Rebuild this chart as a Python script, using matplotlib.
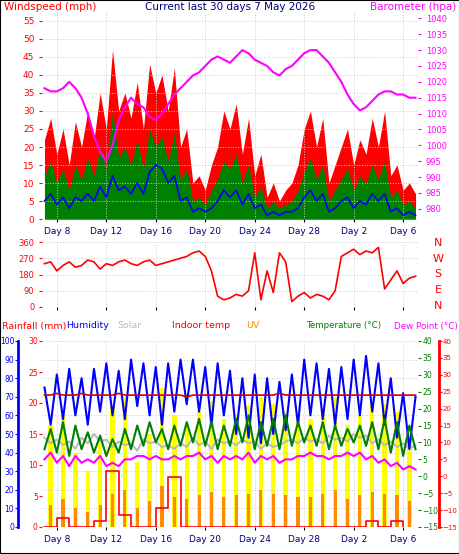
import numpy as np
import matplotlib
matplotlib.use("Agg")
import matplotlib.pyplot as plt
from matplotlib.patches import Rectangle

W, H = 460, 554
t = np.arange(7, 37.01, 0.5)  # day-of-period positions, 2 samples/day
gust = [22,28,18,25,15,27,20,30,22,35,25,47,30,35,28,38,25,43,35,40,30,42,20,25,10,12,8,15,20,30,
        25,32,18,28,12,18,6,10,5,8,10,15,25,30,20,28,10,15,20,25,15,22,18,28,20,30,12,15,8,10,7]
speed = [12,16,10,14,8,15,11,17,12,20,14,30,17,20,15,22,14,25,20,23,16,24,11,14,5,6,4,8,11,16,
         14,18,10,15,6,9,3,5,3,4,5,8,13,17,11,15,5,8,11,14,8,12,10,15,11,16,6,8,4,5,3]
avgw = [5,7,4,6,3,6,5,7,5,9,6,12,8,9,7,10,7,13,15,14,10,12,5,6,2,3,2,3,5,8,
        6,8,4,7,3,4,1,2,1,2,2,3,6,8,5,7,2,3,5,6,3,5,4,7,5,7,2,3,1,2,1]
baro = [1018,1017,1017,1018,1020,1018,1015,1010,1003,998,995,1000,1008,1012,1015,1013,1012,1009,1008,1010,
        1013,1016,1018,1020,1022,1023,1025,1027,1028,1027,1026,1028,1030,1029,1027,1026,1025,1023,1022,1024,
        1025,1027,1029,1030,1030,1028,1026,1023,1020,1016,1013,1011,1012,1014,1016,1017,1017,1016,1016,1015,1015]
wdir_t = np.arange(7, 37.01, 0.5)
wdir = [240,250,200,230,250,220,230,260,250,210,240,230,250,260,240,230,250,260,230,240,
        250,260,270,280,300,310,280,200,60,40,50,70,60,90,300,40,200,80,300,250,
        30,60,80,50,70,60,40,90,280,300,320,290,310,300,330,100,150,200,130,160,170]
hum = [75,55,82,58,85,60,80,55,85,62,88,60,84,58,90,65,88,60,86,55,
       88,62,90,66,90,62,86,55,88,60,84,50,80,48,82,45,80,50,78,52,
       82,55,90,60,88,58,85,55,86,58,90,60,92,62,88,55,80,48,72,42,70]
temp = [8,14,7,16,6,15,8,13,7,12,6,11,7,14,8,15,9,16,10,14,
        8,15,9,16,10,17,9,16,8,15,9,17,10,18,8,16,9,17,8,18,
        9,16,10,15,9,16,8,15,9,14,10,15,9,16,8,17,7,16,6,15,8]
dew = [5,7,4,6,3,6,4,5,4,6,3,4,3,5,5,6,6,5,6,5,
       5,6,5,6,6,7,5,6,4,6,5,6,5,7,4,6,5,6,4,5,
       5,6,6,7,6,6,5,6,6,7,6,7,5,6,4,5,3,4,2,3,2]
indoor = [24,24,24.5,24,24,24,24.5,24,24,24,24,24,24.5,24,24,24,24,24,24,24,
          24,24,24,23.5,24,24,24,24,24,24,24,24,24,24,24,24,24,24,24.5,24,
          24,24,24,24,24,24,24,24,24,24,24,24,24,24,24,24,24,24,24,24,24]
solar_gray = [48,45,47,44,46,42,48,45,50,46,47,43,46,44,45,41,47,45,46,43,
              44,42,45,43,48,44,46,42,47,45,46,44,47,45,46,42,45,43,44,46,
              47,45,48,46,47,45,49,47,48,46,50,48,49,45,47,44,46,43,45,42,44]
days = np.arange(7, 37)
solar = [55,60,40,30,45,65,70,35,50,75,60,55,62,68,58,60,65,70,66,62,60,58,64,70,55,60,68,66,62,50]
uv = [12,15,10,8,12,18,20,10,14,22,16,15,17,19,16,17,18,20,18,17,16,16,18,20,15,17,19,18,17,14]
rain = [0,1.5,0,0,1,9,2,0,0,3,8,0,0,0,0,0,0,0,0,0,0,0,0,0,0,0,1,0,1,0]

fig = plt.figure(figsize=(W/100, H/100), dpi=100)
fig.patch.set_facecolor("white")
fig.add_artist(Rectangle((0, 0), 1, 1, transform=fig.transFigure, fill=False, ec="black", lw=1.5))

def ax_at(x0, y0, x1, y1):
    return fig.add_axes([x0/W, 1-y1/H, (x1-x0)/W, (y1-y0)/H])

XL = (6.8, 37.2)
dticks = [8, 12, 16, 20, 24, 28, 32, 36]
dlabels = ["Day 8", "Day 12", "Day 16", "Day 20", "Day 24", "Day 28", "Day 2", "Day 6"]

def style(ax):
    ax.set_xlim(*XL)
    ax.grid(True, color="#cccccc", ls=":", lw=0.7)
    for s in ax.spines.values():
        s.set_visible(False)
    ax.tick_params(labelsize=6.5, length=2)

def bare_twin(ax):
    a = ax.twinx()
    a.set_xlim(*XL)
    for s in a.spines.values():
        s.set_visible(False)
    return a

# --- top panel
ax1 = ax_at(42, 12, 418, 219)
style(ax1)
ax1.fill_between(t, 0, gust, color="#ff0000", lw=0)
ax1.fill_between(t, 0, speed, color="#008000", lw=0)
ax1.plot(t, avgw, color="#0000ff", lw=1.2)
ax1.set_ylim(0, 57.5)
ax1.set_yticks(range(0, 60, 5))
ax1.tick_params(axis="y", colors="red", labelcolor="red")
ax1.set_xticks(dticks)
ax1.set_xticklabels(dlabels, color="navy", fontsize=6.5)
ax1b = bare_twin(ax1)
ax1b.plot(t, baro, color="#ff00ff", lw=1.5)
ax1b.set_ylim(976.8, 1042)
ax1b.set_yticks(range(980, 1045, 5))
ax1b.tick_params(axis="y", colors="#ff00ff", labelsize=6, length=2)

fig.text(4/W, 1-7/H, "Windspeed (mph)", color="red", fontsize=7.5, va="center")
fig.text(230/W, 1-7/H, "Current last 30 days 7 May 2026", color="navy", fontsize=7.5, va="center", ha="center")
fig.text(456/W, 1-7/H, "Barometer (hpa)", color="#ff00ff", fontsize=7.5, va="center", ha="right")

# --- direction panel
ax2 = ax_at(42, 242, 418, 307)
style(ax2)
ax2.plot(wdir_t, wdir, color="red", lw=1.2)
ax2.set_ylim(0, 360)
ax2.set_yticks(range(0, 361, 90))
ax2.tick_params(axis="y", colors="red", labelsize=6)
ax2.set_xticks(dticks)
ax2.set_xticklabels([])
for i, lab in enumerate(["N", "W", "S", "E", "N"]):
    fig.text(438/W, 1-(243+i*15.75)/H, lab, color="red", fontsize=8, va="center", ha="center")

# --- bottom panel
ax3 = ax_at(42, 341, 418, 527)
style(ax3)
ax3.bar(days+0.5, solar, width=0.35, color="#ffff00", zorder=1)
ax3.bar(days+0.5, uv, width=0.25, color="#ff8c00", zorder=2)
ax3.plot(t, solar_gray, color="#bbbbbb", lw=1.5, zorder=3)
ax3.plot(t, hum, color="#0000ff", lw=1.5, zorder=4)
ax3.set_ylim(0, 100)
ax3.set_yticks(range(0, 101, 10))
ax3.spines["left"].set_visible(True)
ax3.spines["left"].set_position(("outward", 17))
ax3.spines["left"].set_color("blue")
ax3.spines["left"].set_linewidth(2)
ax3.tick_params(axis="y", colors="blue", labelcolor="blue", labelsize=5.5, length=2, pad=1)
ax3.set_xticks(dticks)
ax3.set_xticklabels(dlabels, color="navy", fontsize=6.5)
axr = bare_twin(ax3)
axr.step(np.arange(7, 37), rain, where="post", color="red", lw=1.2, zorder=5)
axr.set_ylim(0, 30)
axr.yaxis.set_ticks_position("left")
axr.set_yticks(range(0, 31, 5))
axr.tick_params(axis="y", colors="red", labelsize=5.5, length=2, pad=1)
axt = bare_twin(ax3)
axt.plot(t, dew, color="#ff00ff", lw=1.5)
axt.plot(t, temp, color="#008000", lw=1.5)
axt.plot(t, indoor, color="#cc0000", lw=1.2)
axt.set_ylim(-15, 40)
axt.set_yticks(range(-15, 41, 5))
axt.tick_params(axis="y", colors="#008000", labelsize=5.5, length=2, pad=1)
axt2 = ax3.twinx()
axt2.set_xlim(*XL)
axt2.spines["right"].set_position(("outward", 15))
for k, s in axt2.spines.items():
    s.set_visible(k == "right")
axt2.spines["right"].set_color("red")
axt2.spines["right"].set_linewidth(2)
axt2.set_ylim(-15, 40)
axt2.set_yticks(range(-15, 41, 5))
axt2.tick_params(axis="y", colors="red", labelsize=5, length=2, pad=0.5)

ly = 1-326/H
fs = 6.8
fig.text(2/W, ly, "Rainfall (mm)", color="red", fontsize=fs, va="center")
fig.text(66/W, ly, "Humidity", color="blue", fontsize=fs, va="center")
fig.text(117/W, ly, "Solar", color="#bbbbbb", fontsize=fs, va="center")
fig.text(172/W, ly, "Indoor temp", color="red", fontsize=fs, va="center")
fig.text(246/W, ly, "UV", color="#ff8c00", fontsize=fs, va="center")
fig.text(306/W, ly, "Temperature (°C)", color="green", fontsize=6.3, va="center")
fig.text(458/W, ly, "Dew Point (°C)", color="#ff00ff", fontsize=6.3, va="center", ha="right")

fig.savefig("out.png", dpi=100)
